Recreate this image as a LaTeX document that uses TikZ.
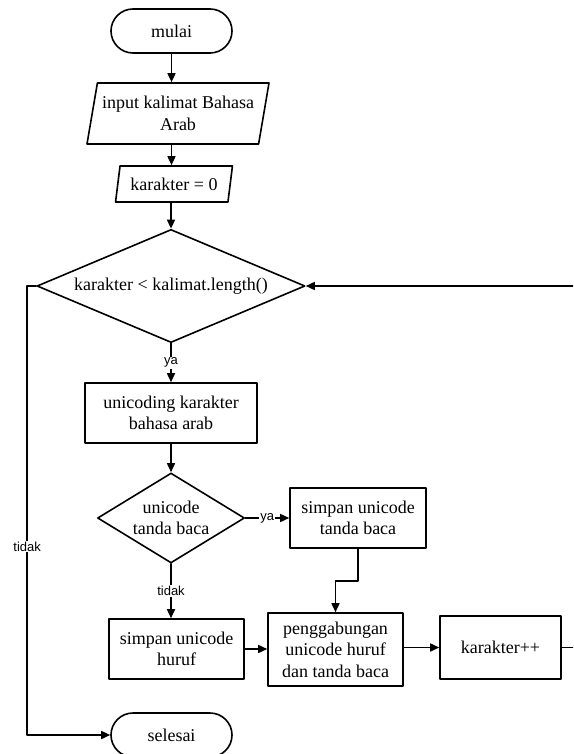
\documentclass[tikz,border=0pt]{standalone}
\usepackage{fontspec}
\setmainfont{Liberation Serif}
\newfontfamily\lblfont{Liberation Sans}
\usetikzlibrary{arrows.meta}
\usetikzlibrary{shapes.geometric}

\begin{document}
\begin{tikzpicture}[line cap=round,line join=round,>={Triangle[length=9pt,width=8pt]},x=1pt,y=-1pt,line width=1.6pt,
  every node/.style={font=\fontsize{18}{21.5}\selectfont,align=center,inner sep=0pt},
  terminal/.style={draw,rounded corners=22pt,minimum width=121pt,minimum height=44pt},
  io/.style={draw,trapezium,trapezium left angle=74,trapezium right angle=106,trapezium stretches=true},
  decision/.style={draw,diamond,aspect=2},
  process/.style={draw,rectangle},
  lbl/.style={fill=white,font=\lblfont\fontsize{13}{15}\selectfont,inner sep=1pt}]
\clip (0,0) rectangle (573,754);
\node[terminal] (mulai) at (171.5,31) {mulai};
\node[io,minimum width=182pt,minimum height=61pt] (input) at (178,113.5) {input kalimat Bahasa\\Arab};
\node[io,minimum width=118pt,minimum height=36pt] (init) at (174,184) {karakter = 0};
\node[decision,minimum width=268pt,minimum height=105pt] (cond) at (171,286) {karakter < kalimat.length()};
\node[process,minimum width=172pt,minimum height=60pt] (unicoding) at (171,413) {unicoding karakter\\bahasa arab};
\node[decision,minimum width=147pt,minimum height=90pt] (cek) at (171,518) {unicode\\tanda baca};
\node[process,minimum width=136pt,minimum height=60pt] (simpantb) at (358,518) {simpan unicode\\tanda baca};
\node[process,minimum width=135pt,minimum height=60pt] (simpanhuruf) at (176.5,649) {simpan unicode\\huruf};
\node[process,minimum width=135pt,minimum height=73pt] (gabung) at (335.5,649.5) {penggabungan\\unicode huruf\\dan tanda baca};
\node[process,minimum width=121pt,minimum height=63pt] (inc) at (500.5,647.5) {karakter++};
\node[terminal] (selesai) at (171.5,735) {selesai};
\draw [->] (mulai.south) -- (mulai.south |- input.north);
\draw [->] (mulai.south |- input.south) -- (mulai.south |- init.north);
\draw [->] (cond.north |- init.south) -- (cond.north);
\draw [->] (cond.south) -- node[lbl] {ya} (unicoding.north);
\draw [->] (unicoding.south) -- (cek.north);
\draw [->] (cek.east) -- node[lbl] {ya} (simpantb.west);
\draw [->] (cek.south) -- node[lbl] {tidak} (cek.south |- simpanhuruf.north);
\draw [->] (simpantb.south) -- ++(0,32) -| (gabung.north);
\draw [->] (simpanhuruf.east) -- (gabung.west |- simpanhuruf.east);
\draw [->] (gabung.east |- inc.west) -- (inc.west);
\draw [->] (inc.east) -- ++(40,0) |- (cond.east);
\draw [->] (cond.west) -- ++(-9,0) |- node[lbl,pos=0.29] {tidak} (selesai.west);
\end{tikzpicture}
\end{document}
